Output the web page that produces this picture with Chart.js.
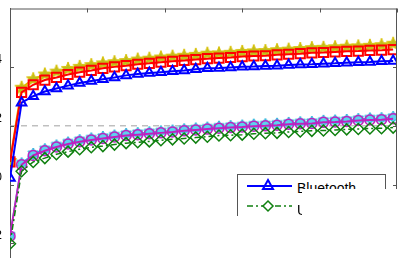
<!DOCTYPE html>
<html lang="en">
<head>
<meta charset="UTF-8">
<title>Bluetooth / UWB</title>
<script src="https://cdn.jsdelivr.net/npm/chart.js"></script>
<style>
  * { box-sizing: border-box; margin:0; padding:0; }
  html, body { width:400px; height:258px; overflow:hidden; background:#fff; }
  body { position:relative; font-family: Arial, 'Liberation Sans', sans-serif; }
  #grafica { position:absolute; left:-40px; top:0; }
  #leyenda {
    position:absolute; left:237px; top:174px; width:149px; height:42px;
    border:1px solid #555; border-bottom:none; background:#fff;
  }
  #leyenda svg { position:absolute; left:0; top:0; }
  .item { position:absolute; left:59px; font-size:14px; line-height:14px; color:#000; white-space:nowrap; }
  #tapa { position:absolute; left:302px; top:189px; right:0; bottom:0; background:#fff; }
</style>
</head>
<body>

<canvas id="grafica" width="447" height="281"></canvas>

<div id="leyenda">
  <svg width="148" height="42">
    <line x1="9" y1="11" x2="54" y2="11" stroke="#0000ff" stroke-width="2"/>
    <polygon points="30,5 35,14 25,14" fill="none" stroke="#0000ff" stroke-width="2"/>
    <line x1="9" y1="31" x2="54" y2="31" stroke="#108010" stroke-width="1.5" stroke-dasharray="6 3 2 3"/>
    <polygon points="30,26 35,31 30,36 25,31" fill="#fff" stroke="#108010" stroke-width="1.5"/>
  </svg>
  <div class="item" style="top:6px">Bluetooth</div>
  <div class="item" style="top:28px">UWB</div>
</div>
<div id="tapa"></div>

<script>
// eje x (cada 1.5) y marcas
const xVals = [0, 1.5, 3, 4.5, 6, 7.5, 9, 10.5, 12, 13.5, 15, 16.5, 18, 19.5, 21, 22.5, 24,
  25.5, 27, 28.5, 30, 31.5, 33, 34.5, 36, 37.5, 39, 40.5, 42, 43.5, 45, 46.5, 48, 49.5];
const xTicks = [0, 10, 20, 30, 40, 50];
const yTicks = [-2, 0, 2, 4];
const refLevel = 2;

// series
const amarillo = [0.80, 3.30, 3.59, 3.75, 3.85, 3.94, 4.01, 4.07, 4.13, 4.17, 4.21, 4.26, 4.29, 4.33, 4.36, 4.39, 4.42,
  4.46, 4.47, 4.49, 4.52, 4.54, 4.55, 4.58, 4.60, 4.62, 4.65, 4.66, 4.68, 4.70, 4.71, 4.73, 4.75, 4.80];
const rojo = [0.77, 3.14, 3.40, 3.56, 3.65, 3.75, 3.83, 3.89, 3.96, 4.01, 4.05, 4.10, 4.13, 4.17, 4.20, 4.23, 4.26,
  4.29, 4.31, 4.33, 4.36, 4.38, 4.39, 4.42, 4.44, 4.46, 4.49, 4.50, 4.52, 4.54, 4.55, 4.57, 4.58, 4.60];
const bluetooth = [0.22, 2.79, 3.01, 3.17, 3.27, 3.37, 3.46, 3.53, 3.59, 3.65, 3.72, 3.77, 3.80, 3.83, 3.86, 3.89, 3.93,
  3.96, 3.97, 3.99, 4.01, 4.02, 4.04, 4.05, 4.07, 4.09, 4.10, 4.12, 4.13, 4.15, 4.17, 4.18, 4.20, 4.21];
const cian = [-1.74, 0.72, 1.04, 1.20, 1.33, 1.43, 1.51, 1.57, 1.62, 1.67, 1.72, 1.75, 1.78, 1.81, 1.84, 1.88, 1.91,
  1.94, 1.97, 1.99, 2.01, 2.04, 2.05, 2.07, 2.10, 2.12, 2.13, 2.17, 2.18, 2.20, 2.23, 2.25, 2.26, 2.30];
const magenta = [-1.76, 0.67, 0.99, 1.15, 1.28, 1.38, 1.46, 1.52, 1.57, 1.62, 1.67, 1.70, 1.73, 1.76, 1.79, 1.83, 1.86,
  1.89, 1.92, 1.94, 1.96, 1.99, 2.00, 2.02, 2.05, 2.07, 2.08, 2.12, 2.13, 2.15, 2.18, 2.20, 2.21, 2.24];
const uwb = [-2.02, 0.45, 0.77, 0.90, 1.03, 1.12, 1.20, 1.27, 1.31, 1.36, 1.41, 1.44, 1.47, 1.51, 1.54, 1.57, 1.60,
  1.63, 1.67, 1.68, 1.70, 1.73, 1.75, 1.76, 1.79, 1.81, 1.83, 1.84, 1.86, 1.88, 1.89, 1.91, 1.92, 1.94];

const puntos = arr => xVals.map((x, i) => ({ x, y: arr[i] }));

// estrella rellena (5 o 6 puntas) como imagen de marcador
function estrella(n, r, relleno, borde, interior) {
  const c = document.createElement('canvas');
  const s = r * 2 + 4;
  c.width = c.height = s;
  const g = c.getContext('2d');
  g.beginPath();
  for (let k = 0; k < n * 2; k++) {
    const rad = k % 2 ? r * interior : r;
    const a = -Math.PI / 2 + k * Math.PI / n;
    g.lineTo(s / 2 + rad * Math.cos(a), s / 2 + rad * Math.sin(a));
  }
  g.closePath();
  g.fillStyle = relleno; g.fill();
  g.strokeStyle = borde; g.lineWidth = 1; g.stroke();
  return c;
}

// marco tipo caja con marcas hacia dentro
const marco = {
  id: 'marco',
  afterDraw(chart) {
    const { ctx, chartArea: a, scales: { x, y } } = chart;
    ctx.save();
    ctx.strokeStyle = '#555'; ctx.lineWidth = 1;
    ctx.beginPath();
    ctx.moveTo(a.left, a.top + 0.5); ctx.lineTo(a.right, a.top + 0.5);
    ctx.moveTo(a.right - 0.5, a.top); ctx.lineTo(a.right - 0.5, a.bottom);
    xTicks.forEach(v => {
      const px = Math.round(x.getPixelForValue(v)) + 0.5;
      ctx.moveTo(px, a.top); ctx.lineTo(px, a.top + 4);
      ctx.moveTo(px, a.bottom); ctx.lineTo(px, a.bottom - 4);
    });
    yTicks.forEach(v => {
      const py = Math.round(y.getPixelForValue(v)) + 0.5;
      ctx.moveTo(a.left, py); ctx.lineTo(a.left + 4, py);
      ctx.moveTo(a.right, py); ctx.lineTo(a.right - 4, py);
    });
    ctx.stroke();
    ctx.restore();
  }
};

new Chart(document.getElementById('grafica'), {
  type: 'line',
  data: {
    datasets: [
      { label: 'ref', data: [{ x: 0, y: refLevel }, { x: 50, y: refLevel }], borderColor: '#a0a0a0',
        borderWidth: 1, borderDash: [6, 5], pointRadius: 0, order: 10 },
      { label: 'amarillo', data: puntos(amarillo), borderColor: '#e6b800', borderWidth: 2,
        pointStyle: estrella(5, 7, '#bdbd1e', '#d9c000', 0.42), order: 7 },
      { label: 'rojo', data: puntos(rojo), borderColor: '#ff0000', borderWidth: 2,
        pointStyle: 'rect', pointRadius: 6.5, pointBorderWidth: 2, pointBackgroundColor: 'rgba(0,0,0,0)', order: 6 },
      { label: 'cian', data: puntos(cian), borderColor: '#30c0e0', borderWidth: 1.5,
        pointStyle: estrella(6, 6, '#60d0ee', '#20b0d8', 0.58), order: 5 },
      { label: 'magenta', data: puntos(magenta), borderColor: '#c020c0', borderWidth: 2,
        pointStyle: 'circle', pointRadius: 5, pointBorderWidth: 1.5, pointBackgroundColor: 'rgba(0,0,0,0)', order: 4 },
      { label: 'UWB', data: puntos(uwb), borderColor: '#108010', borderWidth: 1.5, borderDash: [6, 3, 2, 3],
        pointStyle: 'rectRot', pointRadius: 5.5, pointBorderWidth: 1.5, pointBackgroundColor: 'rgba(0,0,0,0)', order: 3 },
      { label: 'Bluetooth', data: puntos(bluetooth), borderColor: '#0000ff', borderWidth: 2,
        pointStyle: 'triangle', pointRadius: 5.5, pointBorderWidth: 2, pointBackgroundColor: 'rgba(0,0,0,0)', order: 2 }
    ]
  },
  options: {
    responsive: false,
    animation: false,
    layout: { padding: { left: 0, right: 10, top: 1, bottom: 0 } },
    elements: { line: { tension: 0 }, point: { hoverRadius: 5 } },
    plugins: { legend: { display: false }, tooltip: { enabled: false } },
    scales: {
      x: { type: 'linear', min: 0, max: 50, display: false },
      y: {
        min: -3, max: 6,
        afterFit(s) { s.width = 50; s.paddingTop = 0; s.paddingBottom = 0; },
        afterBuildTicks(s) { s.ticks = yTicks.map(v => ({ value: v })); },
        grid: { display: false, drawTicks: false },
        border: { display: true, color: '#555' },
        ticks: { padding: 8, labelOffset: -7, color: '#000', font: { size: 12, family: 'Arial' } }
      }
    }
  },
  plugins: [marco]
});
</script>
</body>
</html>
